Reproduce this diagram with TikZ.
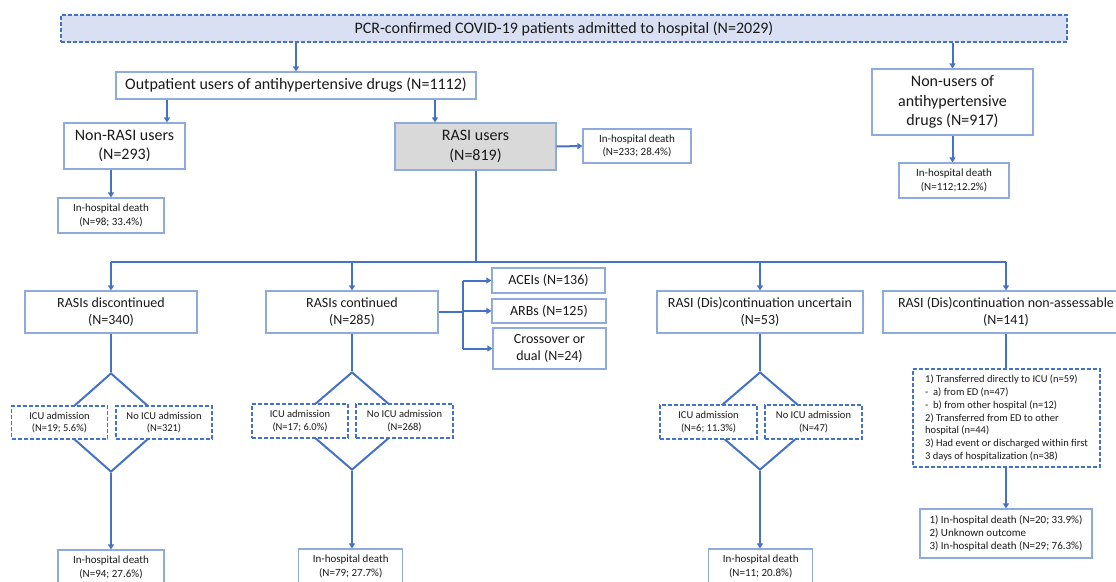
\documentclass[tikz,border=0pt]{standalone}
\usepackage{fontspec}
\setmainfont{Carlito}
\usetikzlibrary{arrows.meta,shapes.geometric,calc}
\definecolor{lineblue}{HTML}{4472C4}
\definecolor{boxblue}{HTML}{8FAADC}
\definecolor{topfill}{HTML}{DAE0F3}
\definecolor{grayfill}{HTML}{D9D9D9}
\definecolor{txt}{HTML}{1A1A1A}
\tikzset{
  box/.style={draw=boxblue, line width=1.2pt, fill=white, align=center, inner sep=0pt, text=txt},
  dbox/.style={draw=lineblue, dash pattern=on 4pt off 2pt, line width=1.2pt, fill=white, align=center, inner sep=0pt, text=txt},
  conn/.style={draw=lineblue, line width=2pt},
  arr/.style={conn, -{Triangle[length=5pt,width=6pt]}},
  dia/.style={diamond, draw=lineblue, line width=2pt, inner sep=0pt},
  big/.style={font=\fontsize{16}{19.5}\selectfont},
  mid/.style={font=\fontsize{14}{16.8}\selectfont},
  small/.style={font=\fontsize{10.5}{12.7}\selectfont},
  smb/.style={font=\fontsize{11}{13.2}\selectfont},
}
\begin{document}
\begin{tikzpicture}[x=1pt,y=-1pt]
\useasboundingbox (0,0) rectangle (1116,581);
\clip (0,0) rectangle (1116,581);
\fill[white] (0,0) rectangle (1116,581);

% top level
\node[dbox, fill=topfill, big, minimum width=1006pt, minimum height=27pt] (top) at (564,28.5) {PCR-confirmed COVID-19 patients admitted to hospital (N=2029)};
\node[box, big, minimum width=360pt, minimum height=27pt] (outp) at (296,85.5) {Outpatient users of antihypertensive drugs (N=1112)};
\node[box, big, minimum width=121pt, minimum height=46pt] (nonrasi) at (124.5,146) {Non-RASI users\\(N=293)};
\node[box, big, fill=grayfill, minimum width=161pt, minimum height=47pt] (rasi) at (475.5,146.5) {RASI users\\(N=819)};
\node[box, smb, minimum width=106pt, minimum height=35pt] (nrdeath) at (111,215.5) {In-hospital death\\(N=98; 33.4\%)};
\node[box, smb, minimum width=108pt, minimum height=34pt] (rdeath) at (637,146) {In-hospital death\\(N=233; 28.4\%)};
\node[box, big, minimum width=161pt, minimum height=66pt] (nonusers) at (952.5,102) {Non-users of\\antihypertensive\\drugs (N=917)};
\node[box, smb, minimum width=110pt, minimum height=35pt] (nudeath) at (954,180.5) {In-hospital death\\(N=112;12.2\%)};

% second level
\node[box, mid, minimum width=172pt, minimum height=42pt] (disc) at (111,312) {RASIs discontinued\\(N=340)};
\node[box, mid, minimum width=172pt, minimum height=42pt] (cont) at (352,312) {RASIs continued\\(N=285)};
\node[box, mid, minimum width=206pt, minimum height=42pt] (unc) at (760,312) {RASI (Dis)continuation uncertain\\(N=53)};
\node[box, mid, minimum width=246pt, minimum height=42pt] (nonass) at (1006,312) {RASI (Dis)continuation non-assessable\\(N=141)};
\node[box, mid, minimum width=113pt, minimum height=25pt] (acei) at (548.5,280.5) {ACEIs (N=136)};
\node[box, mid, minimum width=114pt, minimum height=24pt] (arb) at (549,311) {ARBs (N=125)};
\node[box, mid, minimum width=113pt, minimum height=41pt] (cross) at (549.5,348.5) {Crossover or\\dual (N=24)};

% diamonds (behind the ICU boxes)
\node[dia, minimum width=112pt, minimum height=99pt] (d1) at (111,422.5) {};
\node[dia, minimum width=114pt, minimum height=98pt] (d2) at (352,421) {};
\node[dia, minimum width=114pt, minimum height=98pt] (d3) at (760,421) {};

\node[dbox, small, minimum width=96pt, minimum height=33pt] (i1) at (59.5,422.5) {ICU admission\\(N=19; 5.6\%)};
\node[dbox, small, minimum width=96pt, minimum height=33pt] (n1) at (164,422.5) {No ICU admission\\(N=321)};
\node[dbox, small, minimum width=96pt, minimum height=34pt] (i2) at (300,421) {ICU admission\\(N=17; 6.0\%)};
\node[dbox, small, minimum width=97pt, minimum height=34pt] (n2) at (404.5,421) {No ICU admission\\(N=268)};
\node[dbox, small, minimum width=97pt, minimum height=34pt] (i3) at (708.5,422) {ICU admission\\(N=6; 11.3\%)};
\node[dbox, small, minimum width=97pt, minimum height=34pt] (n3) at (813.5,422) {No ICU admission\\(N=47)};

\node[box, smb, minimum width=106pt, minimum height=35pt] (death1) at (111,567.5) {In-hospital death\\(N=94; 27.6\%)};
\node[box, smb, minimum width=104pt, minimum height=35pt] (death2) at (350.75,566.5) {In-hospital death\\(N=79; 27.7\%)};
\node[box, smb, minimum width=104pt, minimum height=35pt] (death3) at (760.75,566.5) {In-hospital death\\(N=11; 20.8\%)};

\node[dbox, small, align=left, minimum width=187pt, minimum height=98pt] (list) at (1006.5,418) {1) Transferred directly to ICU (n=59)\\-\ \ a) from ED (n=47)\\-\ \ b) from other hospital (n=12)\\2) Transferred from ED to other\\hospital (n=44)\\3) Had event or discharged within first\\3 days of hospitalization (n=38)};
\node[box, smb, align=left, minimum width=172pt, minimum height=49pt] (final) at (1006,533.5) {1) In-hospital death (N=20; 33.9\%)\\2) Unknown outcome\\3) In-hospital death (N=29; 76.3\%)};

% connectors
\coordinate (bus) at (0,262);
\coordinate (br) at (463,0);
\draw[arr] (top.south -| outp.north) -- (outp.north);
\draw[arr] (top.south -| nonusers.north) -- (nonusers.north);
\draw[arr] ([xshift=-129pt]outp.south) -- ([xshift=-129pt]outp.south |- nonrasi.north);
\draw[arr] ([xshift=139pt]outp.south) -- ([xshift=139pt]outp.south |- rasi.north);
\draw[arr] (nrdeath.north |- nonrasi.south) -- (nrdeath.north);
\draw[arr] (rasi.east) -- (rdeath.west);
\draw[arr] (nonusers.south) -- (nonusers.south |- nudeath.north);

\draw[conn] (rasi.south) -- (rasi.south |- bus);
\draw[conn] (disc.north |- bus) -- (nonass.north |- bus);
\draw[arr] (disc.north |- bus) -- (disc.north);
\draw[arr] (cont.north |- bus) -- (cont.north);
\draw[arr] (unc.north |- bus) -- (unc.north);
\draw[arr] (nonass.north |- bus) -- (nonass.north);

\draw[conn] (cont.east) -- (cont.east -| br);
\draw[conn] (br |- acei.west) -- (br |- cross.west);
\draw[arr] (br |- acei.west) -- (acei.west);
\draw[arr] (br |- arb.west) -- (arb.west);
\draw[arr] (br |- cross.west) -- (cross.west);

\draw[conn] (disc.south) -- (d1.north);
\draw[conn] (cont.south) -- (d2.north);
\draw[conn] (unc.south) -- (d3.north);
\draw[arr] (d1.south) -- (d1.south |- death1.north);
\draw[arr] (d2.south) -- (d2.south |- death2.north);
\draw[arr] (d3.south) -- (d3.south |- death3.north);

\draw[conn] (nonass.south) -- (nonass.south |- list.north);
\draw[arr] (list.south -| nonass.south) -- (nonass.south |- final.north);
\end{tikzpicture}
\end{document}
